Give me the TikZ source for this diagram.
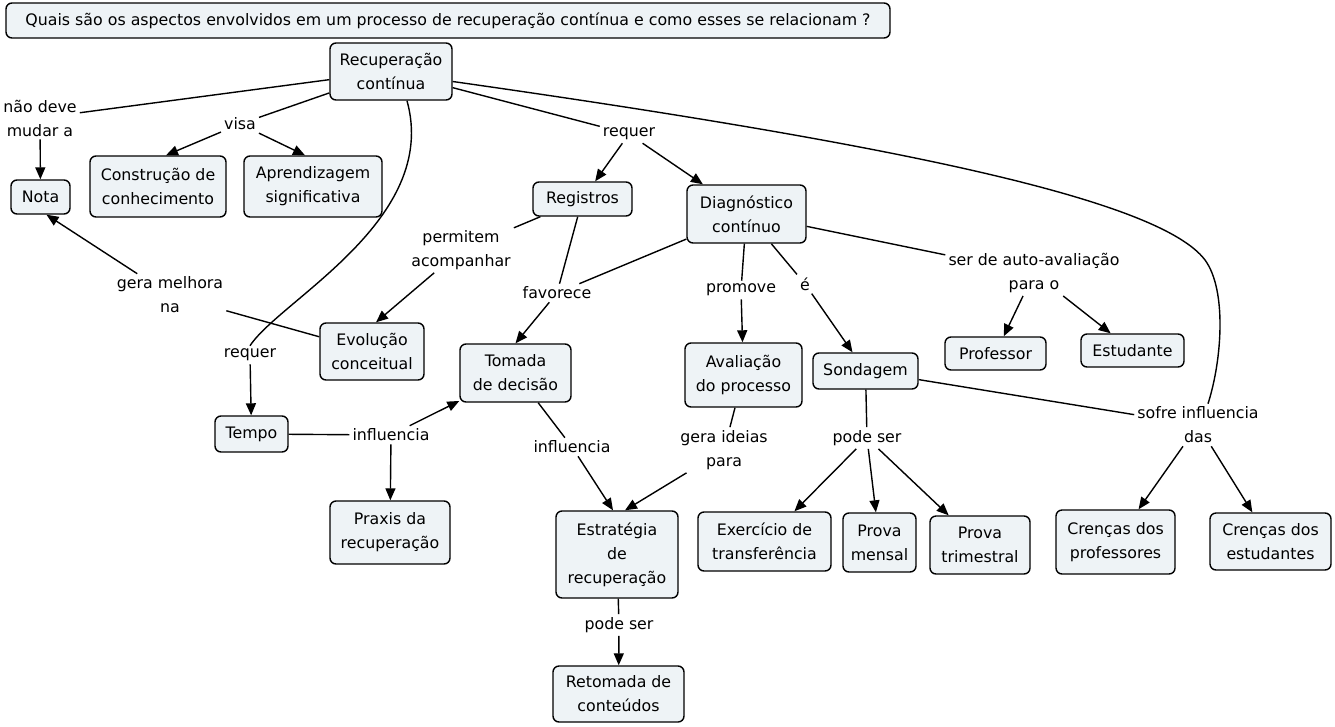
\documentclass[tikz,border=0pt]{standalone}
\usepackage{fontspec}
\setmainfont{DejaVu Sans}
\usetikzlibrary{arrows.meta}
\definecolor{cfill}{HTML}{EEF3F6}
\begin{document}
\begin{tikzpicture}[x=1pt,y=-1pt,
  font=\fontsize{15.8}{24}\selectfont,
  concept/.style={draw=black, rounded corners=6pt, fill=cfill, line width=1.4pt, align=center, inner sep=2pt},
  lbl/.style={align=center, inner sep=3pt},
  con/.style={line width=1.4pt},
  arr/.style={line width=1.4pt, -{Triangle[length=12pt,width=10pt]}}]
\useasboundingbox (0,0) rectangle (1335,726);
% concepts
\node[concept, minimum width=884, minimum height=35] (q) at (448,20.5) {Quais são os aspectos envolvidos em um processo de recuperação contínua e como esses se relacionam ?};
\node[concept, minimum width=122, minimum height=57] (rec) at (391,71.5) {Recuperação\\contínua};
\node[concept, minimum width=59, minimum height=34] (nota) at (40.5,197) {Nota};
\node[concept, minimum width=136, minimum height=61] (cons) at (158,186.5) {Construção de\\conhecimento};
\node[concept, minimum width=138, minimum height=61] (apr) at (313,186.5) {Aprendizagem\\significativa};
\node[concept, minimum width=99, minimum height=34] (reg) at (582.5,199) {Registros};
\node[concept, minimum width=119, minimum height=58] (diag) at (746.5,214) {Diagnóstico\\contínuo};
\node[concept, minimum width=104, minimum height=57] (evo) at (372,351.5) {Evolução\\conceitual};
\node[concept, minimum width=111, minimum height=58] (tom) at (515.5,373) {Tomada\\de decisão};
\node[concept, minimum width=117, minimum height=64] (aval) at (743.5,375) {Avaliação\\do processo};
\node[concept, minimum width=105, minimum height=36] (son) at (865.5,371) {Sondagem};
\node[concept, minimum width=101, minimum height=33] (prof) at (995.5,353.5) {Professor};
\node[concept, minimum width=103, minimum height=33] (est) at (1132.5,350.5) {Estudante};
\node[concept, minimum width=73, minimum height=36] (tempo) at (251.5,434) {Tempo};
\node[concept, minimum width=120, minimum height=63] (praxis) at (390,532.5) {Praxis da\\recuperação};
\node[concept, minimum width=122, minimum height=87] (estr) at (617,554.5) {Estratégia\\de\\recuperação};
\node[concept, minimum width=131, minimum height=56] (ret) at (618.5,694) {Retomada de\\conteúdos};
\node[concept, minimum width=133, minimum height=59] (exer) at (764.5,541.5) {Exercício de\\transferência};
\node[concept, minimum width=73, minimum height=59] (pm) at (879.5,542.5) {Prova\\mensal};
\node[concept, minimum width=100, minimum height=58] (pt) at (980,545) {Prova\\trimestral};
\node[concept, minimum width=119, minimum height=64] (cp) at (1115.5,542) {Crenças dos\\professores};
\node[concept, minimum width=121, minimum height=57] (ce) at (1270.5,541.5) {Crenças dos\\estudantes};
% linking phrases
\node[lbl] (l1) at (40,118) {não deve\\mudar a};
\node[lbl] (l2) at (240,124) {visa};
\node[lbl] (l3) at (629,134) {requer};
\node[lbl] (l4) at (461,250) {permitem\\acompanhar};
\node[lbl] (l5) at (170,295) {gera melhora\\na};
\node[lbl] (l6) at (557,293) {favorece};
\node[lbl] (l7) at (741,290) {promove};
\node[lbl] (l8) at (805,284) {é};
\node[lbl] (l9) at (1034,273) {ser de auto-avaliação\\para o};
\node[lbl] (l10) at (250,355) {requer};
\node[lbl] (l11) at (391,435) {influencia};
\node[lbl] (l12) at (572,447) {influencia};
\node[lbl] (l13) at (724,450) {gera ideias\\para};
\node[lbl] (l14) at (867,438) {pode ser};
\node[lbl] (l15) at (1198,425) {sofre influencia\\das};
\node[lbl] (l16) at (619,625) {pode ser};
% connectors
\draw[con] (rec) -- (l1);
\draw[arr] (l1) -- (nota);
\draw[con] (rec) -- (l2);
\draw[arr] (l2) -- ([xshift=8pt]cons.north);
\draw[arr] (l2) -- ([xshift=-8pt]apr.north);
\draw[con] (rec) -- (l3);
\draw[arr] (l3) -- (reg);
\draw[arr] (l3) -- (diag);
\draw[con] ([xshift=16pt]rec.south) .. controls (440,220) and (280,300) .. (l10.north);
\draw[arr] (l10) -- (tempo);
\draw[con] ([yshift=-10pt]rec.east) .. controls (900,145) and (1160,200) .. (1205,260) .. controls (1227,290) and (1222,360) .. ([xshift=10pt]l15.north);
\draw[con] (reg) -- (l4);
\draw[arr] (l4) -- ([xshift=4pt]evo.north);
\draw[con] (reg) -- (l6);
\draw[con] (diag) -- (l6);
\draw[arr] (l6) -- (tom.north);
\draw[con] (evo) -- (l5);
\draw[arr] (l5) -- ([xshift=6pt]nota.south);
\draw[con] (diag) -- (l7);
\draw[arr] (l7) -- (aval);
\draw[con] (diag) -- (l8);
\draw[arr] (l8) -- (son);
\draw[con] (diag) -- (l9);
\draw[arr] (l9) -- (prof);
\draw[arr] (l9) -- (est);
\draw[con] (tempo) -- (l11);
\draw[arr] (l11) -- (tom);
\draw[arr] (l11) -- (praxis);
\draw[con] (tom) -- (l12);
\draw[arr] (l12) -- ([xshift=-4pt]estr.north);
\draw[con] (aval) -- (l13);
\draw[arr] (l13) -- ([xshift=8pt]estr.north);
\draw[con] (son) -- (l14);
\draw[arr] (l14) -- (exer);
\draw[arr] (l14) -- (pm);
\draw[arr] (l14) -- (pt);
\draw[con] (son) -- (l15);
\draw[arr] (l15) -- (cp);
\draw[arr] (l15) -- (ce);
\draw[con] (estr) -- (l16);
\draw[arr] (l16) -- (ret);
\end{tikzpicture}
\end{document}
